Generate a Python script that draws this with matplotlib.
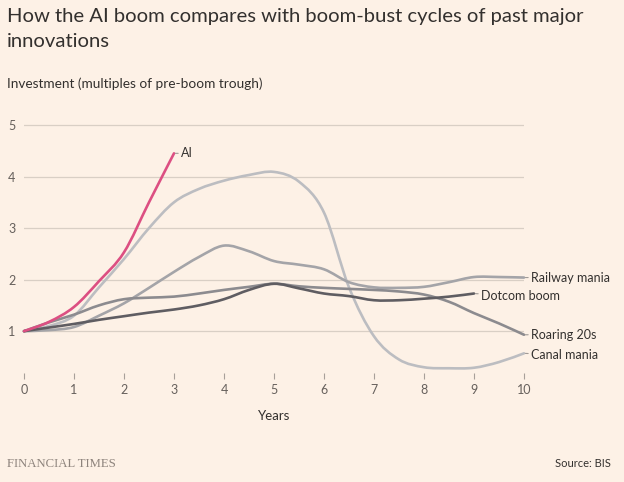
import matplotlib
matplotlib.use("Agg")
import matplotlib.pyplot as plt
from matplotlib.path import Path
from matplotlib.patches import PathPatch

# values, half-year steps
years = [0, 0.5, 1, 1.5, 2, 2.5, 3, 3.5, 4, 4.5, 5, 5.5, 6, 6.5, 7, 7.5, 8, 8.5, 9, 9.5, 10]
ai = [1.0, 1.18, 1.47, 1.97, 2.53, 3.5, 4.45]
canal = [1.0, 1.1, 1.3, 1.85, 2.4, 3.0, 3.5, 3.76, 3.92, 4.03, 4.09, 3.9, 3.3, 1.85,
         0.9, 0.45, 0.3, 0.28, 0.29, 0.4, 0.57]
railway = [1.0, 1.02, 1.08, 1.3, 1.54, 1.84, 2.15, 2.44, 2.66, 2.55, 2.36, 2.29, 2.2,
           1.95, 1.85, 1.84, 1.86, 1.95, 2.05, 2.05, 2.04]
roaring = [1.0, 1.17, 1.32, 1.5, 1.62, 1.65, 1.67, 1.73, 1.8, 1.86, 1.92, 1.87, 1.84,
           1.82, 1.8, 1.77, 1.71, 1.57, 1.35, 1.15, 0.93]
dotcom = [1.0, 1.07, 1.14, 1.22, 1.29, 1.36, 1.42, 1.5, 1.62, 1.8, 1.92, 1.83, 1.73,
          1.68, 1.6, 1.6, 1.63, 1.67, 1.73]

BG = "#fdf1e6"
TXT = "#33302e"
GREY = "#66605c"

plt.rcParams["font.family"] = ["Lato", "DejaVu Sans"]


def smooth_path(xs, ys, k=1 / 6):
    # Catmull-Rom style bezier through the points (drawing only)
    verts = [(xs[0], ys[0])]
    codes = [Path.MOVETO]
    n = len(xs)
    for i in range(n - 1):
        x0, y0 = (xs[i - 1], ys[i - 1]) if i > 0 else (xs[i], ys[i])
        x1, y1 = xs[i], ys[i]
        x2, y2 = xs[i + 1], ys[i + 1]
        x3, y3 = (xs[i + 2], ys[i + 2]) if i + 2 < n else (x2, y2)
        verts += [(x1 + (x2 - x0) * k, y1 + (y2 - y0) * k),
                  (x2 - (x3 - x1) * k, y2 - (y3 - y1) * k),
                  (x2, y2)]
        codes += [Path.CURVE4] * 3
    return Path(verts, codes)


fig = plt.figure(figsize=(6.24, 4.82), dpi=100, facecolor=BG)
ax = fig.add_axes([24 / 624, 1 - 373 / 482, 500 / 624, 249 / 482], facecolor=BG)
ax.set_xlim(0, 10)
ax.set_ylim(0.188, 5.0 + 1 / 51.75)

series = [
    ("Canal mania", canal, "#bcbdc1", (5, -1.5)),
    ("Railway mania", railway, "#a4a4a8", (5, 0)),
    ("Roaring 20s", roaring, "#8c8b8f", (5, 0)),
    ("Dotcom boom", dotcom, "#5f5d62", (5, -2)),
    ("AI", ai, "#dc4f82", (5, 0)),
]
for name, vals, col, off in series:
    xs = years[:len(vals)]
    ax.add_patch(PathPatch(smooth_path(xs, vals), fc="none", ec=col, lw=1.9,
                           capstyle="round", joinstyle="round", clip_on=False,
                           zorder=3))
    ax.annotate(name, xy=(xs[-1], vals[-1]), xytext=off,
                textcoords="offset points", va="center", ha="left",
                fontsize=9, color=TXT, annotation_clip=False,
                arrowprops=dict(arrowstyle="-", color="#a09a96", lw=0.8,
                                shrinkA=0, shrinkB=1))

for y in [1, 2, 3, 4, 5]:
    ax.axhline(y, color="#d9cfc5", lw=0.9, zorder=1)

for s in ax.spines.values():
    s.set_visible(False)
ax.set_xticks(range(0, 11))
ax.set_yticks([1, 2, 3, 4, 5])
ax.tick_params(axis="x", direction="out", length=4, width=0.8, color="#a8a09a",
               labelsize=9, labelcolor=GREY, pad=4)
ax.tick_params(axis="y", length=0, labelsize=9, labelcolor=GREY, pad=11.5)
for lab in ax.get_yticklabels():
    lab.set_horizontalalignment("left")

ax.set_xlabel("Years", fontsize=9.5, color=TXT, labelpad=10)

fig.text(7 / 624, 1 - 8 / 482,
         "How the AI boom compares with boom-bust cycles of past major\ninnovations",
         fontsize=14.6, color=TXT, va="top", ha="left", linespacing=1.6)
fig.text(7 / 624, 1 - 88 / 482, "Investment (multiples of pre-boom trough)",
         fontsize=9.8, color=TXT, va="baseline")
fig.text(7 / 624, 1 - 467 / 482, "FINANCIAL TIMES", family="Liberation Serif",
         fontsize=9.2, color="#8e847d", va="baseline")
fig.text(611 / 624, 1 - 467 / 482, "Source: BIS", fontsize=8, color=TXT,
         ha="right", va="baseline")

fig.savefig("out.png", dpi=100, facecolor=BG)
